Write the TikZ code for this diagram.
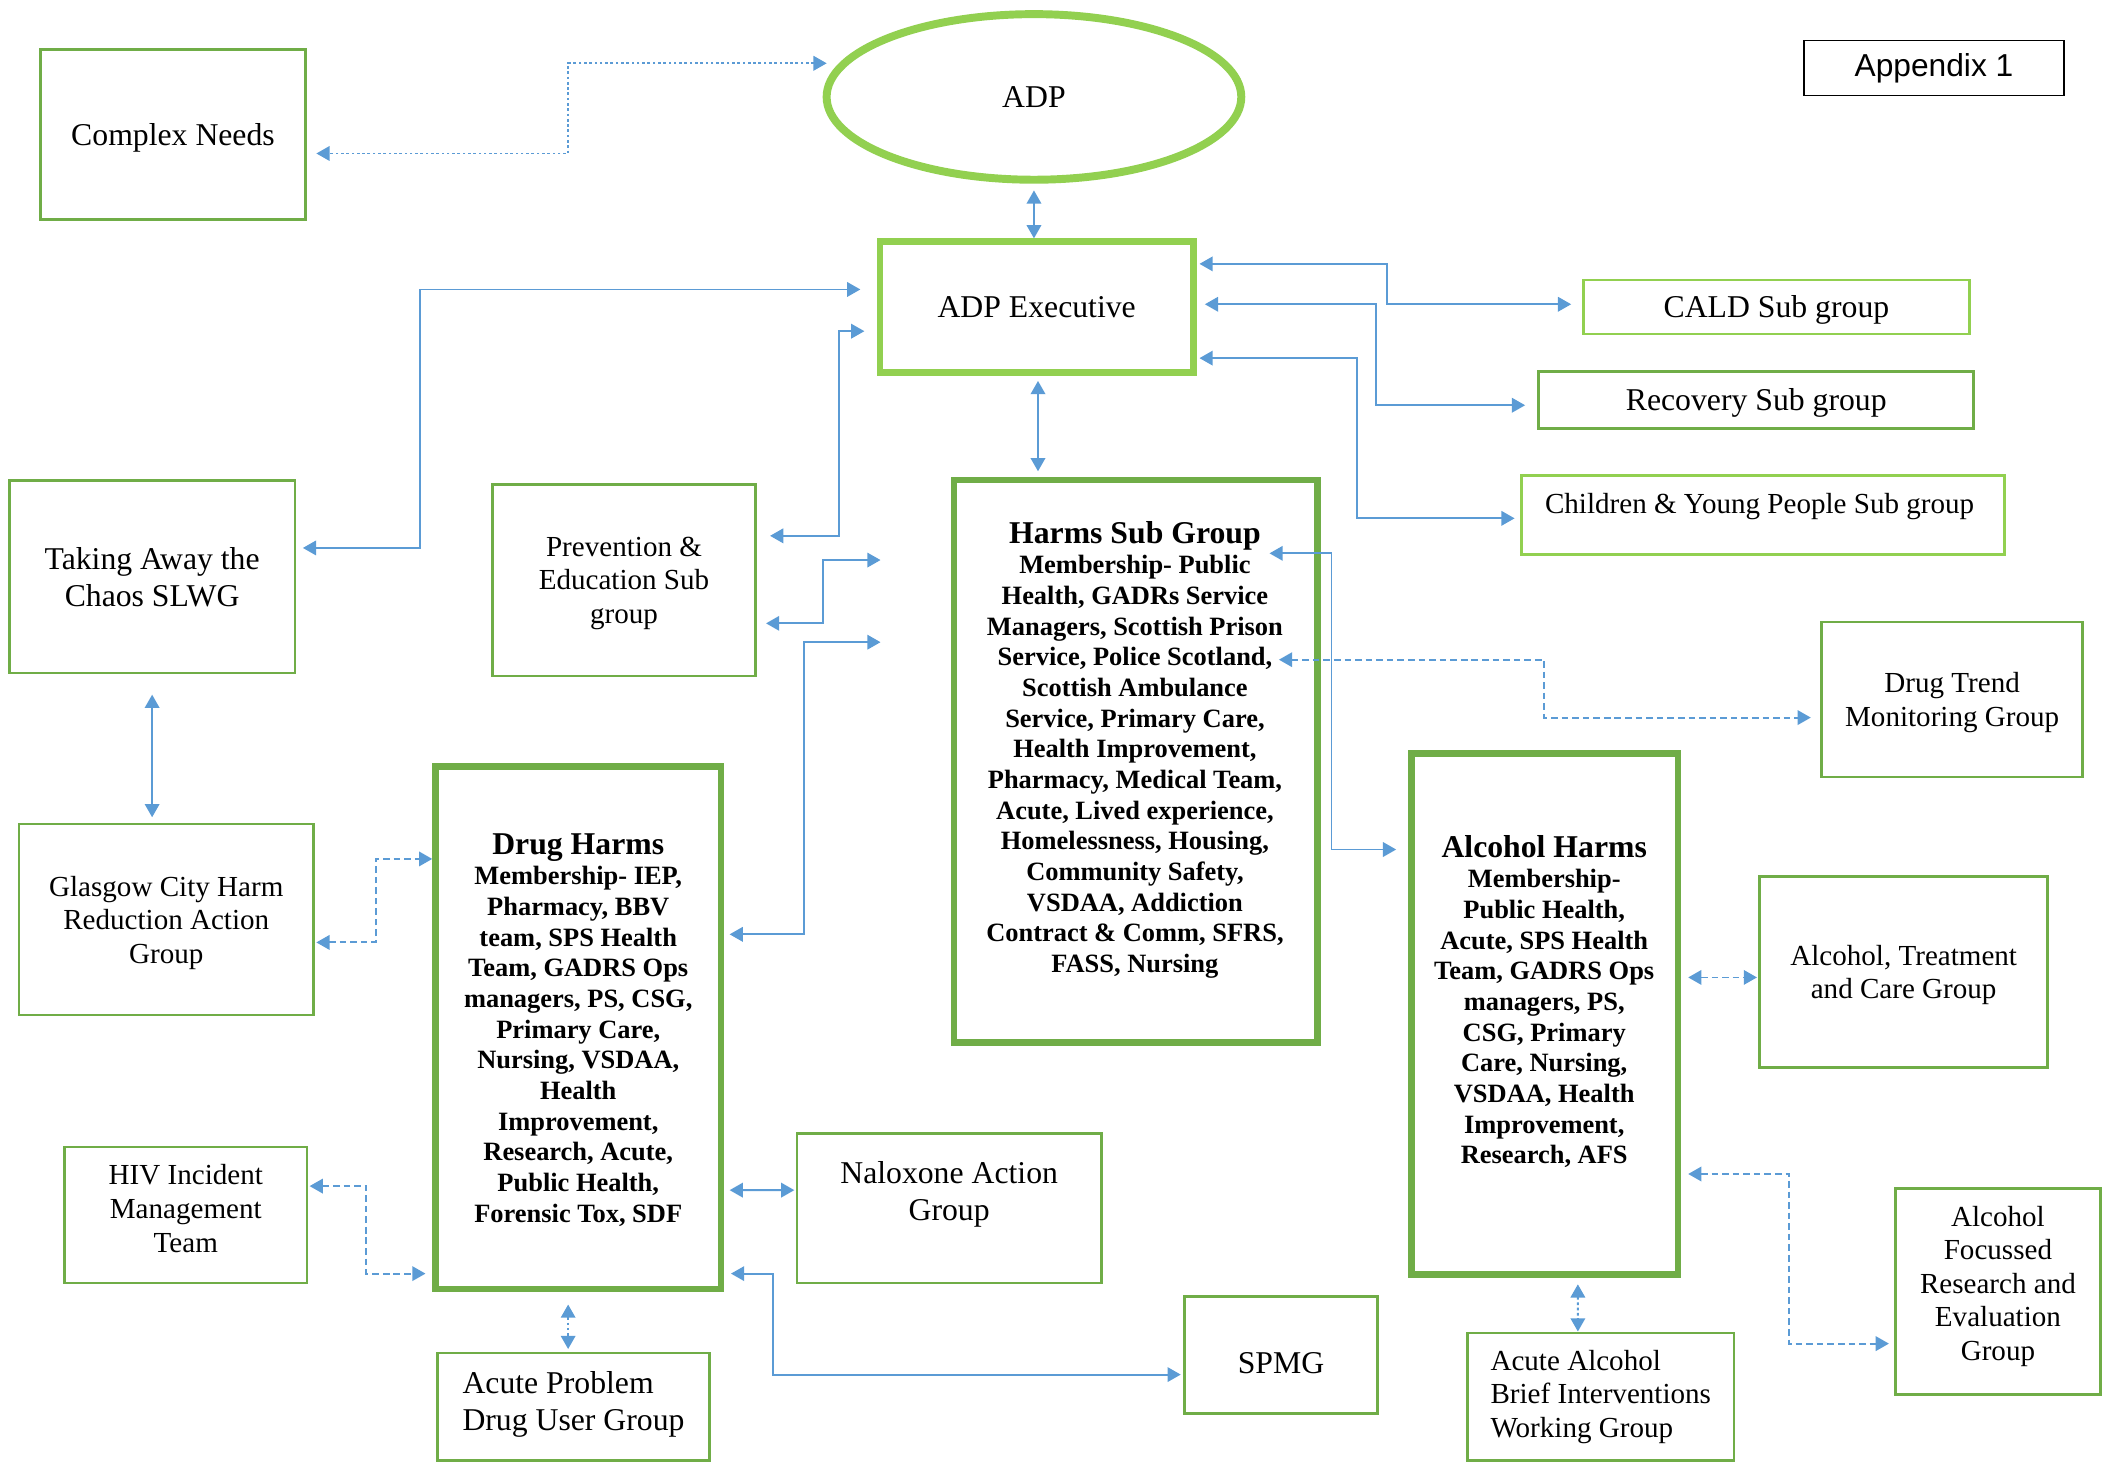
\documentclass[tikz,border=0pt]{standalone}
\usepackage{fontspec}
\setmainfont{Liberation Serif}
\newfontfamily\appfont{Liberation Sans}
\usetikzlibrary{arrows.meta,shapes.geometric}
\definecolor{grnlight}{HTML}{92D050}
\definecolor{grn}{HTML}{70AD47}
\definecolor{blu}{HTML}{5B9BD5}
\newcommand{\boxfont}{\fontsize{12}{13}\selectfont}
\newcommand{\smallboxfont}{\fontsize{11}{12.7}\selectfont}
\newcommand{\wideboxfont}{\fontsize{12}{14.2}\selectfont}
\newcommand{\memberfont}{\fontsize{10}{11.6}\selectfont\bfseries}
\newcommand{\titlefont}{\fontsize{12}{14}\selectfont}

\begin{document}
\begin{tikzpicture}[x=0.0179cm, y=-0.0179cm,
	group_node/.style 2 args={rectangle, draw=grn, line width=1pt, inner sep=0pt, align=center, font=\boxfont, text depth=0pt, minimum width=#1*0.0179cm, minimum height=#2*0.0179cm},
	main_node/.style 2 args={group_node={#1}{#2}, line width=2.5pt},
	member_text/.style={inner sep=0pt, align=center, font=\memberfont},
	link/.style={draw=blu, line width=0.7pt, {Triangle[length=5pt,width=5.5pt]}-{Triangle[length=5pt,width=5.5pt]}},
	dash_link/.style={link, dash pattern=on 2.5pt off 1.5pt},
	dot_link/.style={link, dash pattern=on 1pt off 1pt}]
	\useasboundingbox (0,0) rectangle (1568,1087);

	\node[group_node={197}{126}] (cn) at (128.5,100) {Complex Needs};
	\node[ellipse, draw=grnlight, line width=3pt, inner sep=0pt, font=\boxfont, minimum width=308*0.0179cm, minimum height=123*0.0179cm] (adp) at (768,72) {ADP};
	\node[rectangle, draw=black, line width=0.6pt, minimum width=193*0.0179cm, minimum height=41*0.0179cm, font=\appfont\fontsize{12}{14}\selectfont] (app) at (1436.5,50.5) {Appendix 1};
	\node[main_node={233}{97}, draw=grnlight] (exec) at (770,228) {ADP Executive};
	\node[group_node={287}{40}, draw=grnlight] (cald) at (1319.5,228) {CALD Sub group};
	\node[group_node={323}{42}, line width=1.2pt] (rec) at (1304.5,297) {Recovery Sub group};
	\node[group_node={359}{59}, draw=grnlight] (cyp) at (1309.5,382.5) {};
	\node[inner sep=0pt, font=\smallboxfont] (cyp_text) at (1307,376) {Children \& Young People Sub group};
	\node[group_node={212}{143}, font=\wideboxfont] (tac) at (113,428.5) {Taking Away the\\Chaos SLWG};
	\node[group_node={195}{142}, font=\smallboxfont] (pe) at (463.5,431) {Prevention \&\\Education Sub\\group};
	\node[main_node={270}{418}] (harms) at (843.5,565.5) {};
	\node[member_text] (harms_text) at (843,557) {{\titlefont Harms Sub Group}\\Membership- Public\\Health, GADRs Service\\Managers, Scottish Prison\\Service, Police Scotland,\\Scottish Ambulance\\Service, Primary Care,\\Health Improvement,\\Pharmacy, Medical Team,\\Acute, Lived experience,\\Homelessness, Housing,\\Community Safety,\\VSDAA, Addiction\\Contract \& Comm, SFRS,\\FASS, Nursing};
	\node[group_node={194}{115}, font=\smallboxfont] (dtm) at (1450,519.5) {Drug Trend\\Monitoring Group};
	\node[main_node={212}{388}, member_text] (drug) at (429.5,763.5) {{\titlefont Drug Harms}\\Membership- IEP,\\Pharmacy, BBV\\team, SPS Health\\Team, GADRS Ops\\managers, PS, CSG,\\Primary Care,\\Nursing, VSDAA,\\Health\\Improvement,\\Research, Acute,\\Public Health,\\Forensic Tox, SDF};
	\node[main_node={198}{387}] (alc) at (1147.5,753) {};
	\node[member_text] (alc_text) at (1147,744) {{\titlefont Alcohol Harms}\\Membership-\\Public Health,\\Acute, SPS Health\\Team, GADRS Ops\\managers, PS,\\CSG, Primary\\Care, Nursing,\\VSDAA, Health\\Improvement,\\Research, AFS};
	\node[group_node={219}{142}, font=\smallboxfont] (gch) at (123.5,683) {Glasgow City Harm\\Reduction Action\\Group};
	\node[group_node={214}{142}, font=\smallboxfont] (atc) at (1414,722) {Alcohol, Treatment\\and Care Group};
	\node[group_node={180}{101}, font=\smallboxfont, text depth=5pt] (hiv) at (138,902.5) {HIV Incident\\Management\\Team};
	\node[group_node={226}{111}] (nal) at (705,897.5) {};
	\node[inner sep=0pt, align=center, font=\wideboxfont] (nal_text) at (705,887) {Naloxone Action\\Group};
	\node[group_node={202}{80}, align=left, font=\wideboxfont, text depth=4.6pt] (apd) at (426,1045) {Acute Problem\\Drug User Group};
	\node[group_node={143}{87}, text height=14pt] (spmg) at (951.5,1006.5) {SPMG};
	\node[group_node={198}{95}, align=left, font=\smallboxfont, text depth=2.4pt] (aab) at (1189,1037.5) {Acute Alcohol\\Brief Interventions\\Working Group};
	\node[group_node={152}{153}, font=\smallboxfont, text depth=6.4pt] (afr) at (1484,959.5) {Alcohol\\Focussed\\Research and\\Evaluation\\Group};

	\draw[dot_link] ([shift={(3,-25)}]adp.west) -- ++(-192,0) |- ([shift={(7,14)}]cn.east);
	\draw[link] ([shift={(0,5)}]adp.south) -- ([shift={(-2,0)}]exec.north);
	\draw[link] ([shift={(2,-32)}]exec.east) -- ++(139,0) |- ([shift={(-8,-2)}]cald.west);
	\draw[link] ([shift={(6,-2)}]exec.east) -- ++(127,0) |- ([shift={(-9,4)}]rec.west);
	\draw[link] ([shift={(2,38)}]exec.east) -- ++(117,0) |- ([shift={(-4,2.5)}]cyp.west);
	\draw[link] ([shift={(1,4)}]exec.south) -- ([shift={(-72.5,-4)}]harms.north);
	\draw[link] ([shift={(5,-21.5)}]tac.east) -- ++(87,0) |- ([shift={(-12,-13)}]exec.west);
	\draw[link] ([shift={(10,-33)}]pe.east) -- ++(51,0) |- ([shift={(-9,18)}]exec.west);
	\draw[link] ([shift={(7,32)}]pe.east) -- ++(42,0) |- ([shift={(-52,-149.5)}]harms.west);
	\draw[link] ([shift={(4,-69.5)}]drug.east) -- ++(55,0) |- ([shift={(-52,-88.5)}]harms.west);
	\draw[link] ([shift={(0,15)}]tac.south) -- ([shift={(-10.5,-4)}]gch.north);
	\draw[dash_link] ([shift={(1,17)}]gch.east) -- ++(44,0) |- ([shift={(0,-125.5)}]drug.west);
	\draw[link] ([shift={(-38,-154.5)}]harms.east) -- ++(46,0) |- ([shift={(-9,-122)}]alc.west);
	\draw[dash_link] ([shift={(-31,-75.5)}]harms.east) -- ++(197,0) |- ([shift={(-7,13.5)}]dtm.west);
	\draw[dash_link] ([shift={(5,-27)}]alc.east) -- ([shift={(-1,4)}]atc.west);
	\draw[dash_link] ([shift={(5,119)}]alc.east) -- ++(75,0) |- ([shift={(-4,38.5)}]afr.west);
	\draw[dot_link] ([shift={(24.5,5)}]alc.south) -- ([shift={(-17,0)}]aab.north);
	\draw[dash_link] ([shift={(1,-21.5)}]hiv.east) -- ++(42,0) |- ([shift={(-5,182.5)}]drug.west);
	\draw[link] ([shift={(4,120.5)}]drug.east) -- ([shift={(-1,-13.5)}]nal.west);
	\draw[link] ([shift={(5,182.5)}]drug.east) -- ++(31,0) |- ([shift={(-2,14.5)}]spmg.west);
	\draw[dot_link] ([shift={(-7.5,9)}]drug.south) -- ([shift={(-4,-2)}]apd.north);
\end{tikzpicture}
\end{document}
